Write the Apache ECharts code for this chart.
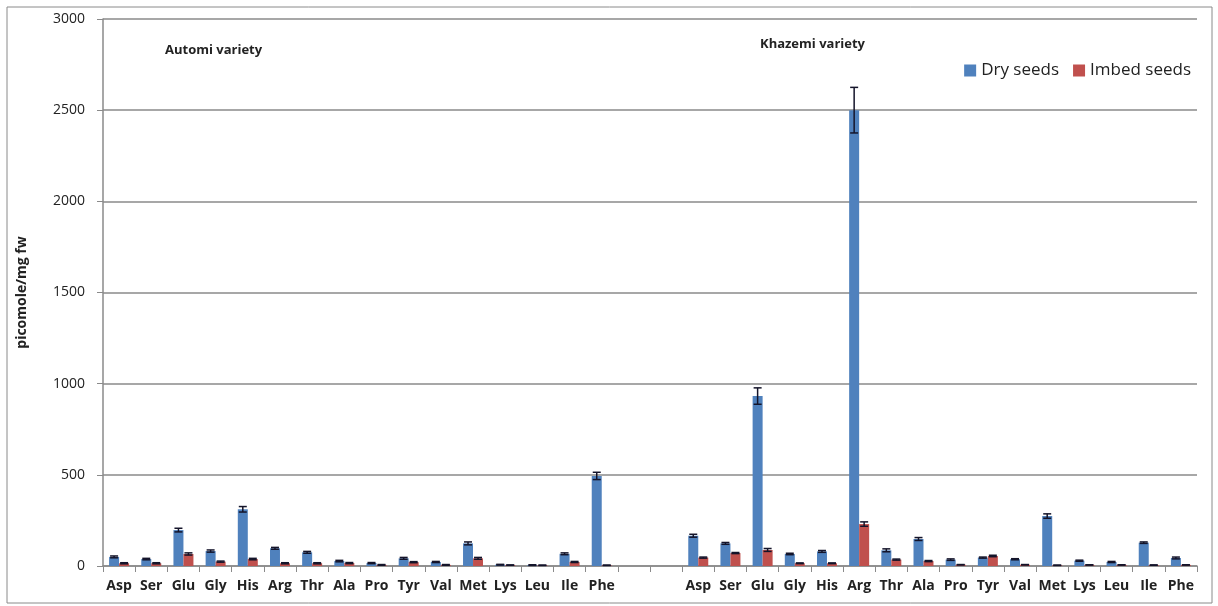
<!DOCTYPE html>
<html lang="en">
<head>
    <meta charset="UTF-8" />
    <title>Amino acids</title>
    <script src="https://cdn.jsdelivr.net/npm/echarts@6/dist/echarts.min.js"></script>
    <style>
        body { margin: 0; background: #fff; }
    </style>
</head>
<body>
    <div id="main" style="width: 1218px; height: 606px;"></div>

    <script>
        // amino acids, same order for both varieties
        var acids = ["Asp", "Ser", "Glu", "Gly", "His", "Arg", "Thr", "Ala", "Pro", "Tyr", "Val", "Met", "Lys", "Leu", "Ile", "Phe"];

        // Automi variety
        var automiDry = [50, 38, 197, 82, 311, 97, 75, 27, 16, 42, 22, 124, 7, 5, 67, 494];
        var automiImbed = [15, 15, 66, 24, 38, 15, 15, 16, 6, 21, 6, 42, 5, 4, 22, 4];
        var automiDryErr = [5, 4, 10, 6, 15, 5, 5, 4, 3, 5, 3, 8, 2, 2, 5, 20];
        var automiImbedErr = [3, 3, 6, 3, 4, 3, 3, 3, 2, 3, 2, 5, 1, 1, 3, 1];

        // Khazemi variety
        var khazemiDry = [166, 124, 932, 66, 80, 2500, 86, 148, 35, 46, 37, 274, 29, 22, 128, 44];
        var khazemiImbed = [46, 71, 88, 15, 15, 230, 35, 27, 7, 55, 7, 4, 6, 6, 5, 6];
        var khazemiDryErr = [8, 5, 45, 4, 5, 125, 8, 8, 4, 3, 3, 12, 3, 3, 4, 5];
        var khazemiImbedErr = [3, 3, 8, 2, 2, 12, 3, 3, 1, 4, 1, 1, 1, 1, 1, 1];

        // two empty slots between the varieties
        var gap = ["", ""];
        var gapNull = [null, null];

        var categories = acids.concat(gap, acids);
        var dryVals = automiDry.concat(gapNull, khazemiDry);
        var imbedVals = automiImbed.concat(gapNull, khazemiImbed);
        var dryErr = automiDryErr.concat(gapNull, khazemiDryErr);
        var imbedErr = automiImbedErr.concat(gapNull, khazemiImbedErr);

        var barW = 10;

        function errData(vals, errs) {
            var out = [];
            for (var i = 0; i < vals.length; i++) {
                if (vals[i] == null) continue;
                out.push([i, vals[i] - errs[i], vals[i] + errs[i]]);
            }
            return out;
        }

        function errRender(offset) {
            return function (params, api) {
                var lo = api.coord([api.value(0), api.value(1)]);
                var hi = api.coord([api.value(0), api.value(2)]);
                var x = lo[0] + offset;
                var cap = 4;
                var style = { stroke: "#14142a", lineWidth: 1.5 };
                return {
                    type: "group",
                    children: [
                        { type: "line", shape: { x1: x, y1: lo[1], x2: x, y2: hi[1] }, style: style },
                        { type: "line", shape: { x1: x - cap, y1: lo[1], x2: x + cap, y2: lo[1] }, style: style },
                        { type: "line", shape: { x1: x - cap, y1: hi[1], x2: x + cap, y2: hi[1] }, style: style }
                    ]
                };
            };
        }

        var chart = echarts.init(document.getElementById("main"));

        var option = {
            backgroundColor: "#fff",
            animation: false,
            textStyle: { fontFamily: "Open Sans" },
            grid: { left: 103, right: 21, top: 19, bottom: 40 },
            legend: {
                right: 22,
                top: 57,
                icon: "rect",
                itemWidth: 12,
                itemHeight: 12,
                itemGap: 14,
                textStyle: { fontSize: 17, color: "#222", fontFamily: "Open Sans" },
                data: ["Dry seeds", "Imbed seeds"]
            },
            graphic: [
                {
                    type: "rect",
                    shape: { x: 7, y: 7, width: 1205, height: 596 },
                    style: { fill: "none", stroke: "#8a8a8a", lineWidth: 1 },
                    silent: true
                },
                {
                    type: "text",
                    left: 165,
                    top: 44,
                    style: { text: "Automi variety", fontSize: 13, fontWeight: "bold", fill: "#222", fontFamily: "Open Sans" }
                },
                {
                    type: "text",
                    left: 760,
                    top: 38,
                    style: { text: "Khazemi variety", fontSize: 13, fontWeight: "bold", fill: "#222", fontFamily: "Open Sans" }
                }
            ],
            xAxis: {
                type: "category",
                data: categories,
                axisLine: { lineStyle: { color: "#8a8a8a", width: 1.5 } },
                axisTick: { show: true, alignWithLabel: false, length: 6, lineStyle: { color: "#8a8a8a" }, interval: 0 },
                axisLabel: { interval: 0, fontSize: 14, fontWeight: "bold", color: "#222", margin: 13 }
            },
            yAxis: {
                type: "value",
                min: 0,
                max: 3000,
                interval: 500,
                name: "picomole/mg fw",
                nameLocation: "middle",
                nameGap: 74,
                nameTextStyle: { fontSize: 14, fontWeight: "bold", color: "#222" },
                axisLine: { show: true, lineStyle: { color: "#8a8a8a", width: 1.5 } },
                axisTick: { show: true, length: 6, lineStyle: { color: "#8a8a8a" } },
                axisLabel: { fontSize: 14, color: "#222", margin: 18, formatter: function (v) { return String(v); } },
                splitLine: { lineStyle: { color: "#8a8a8a", width: 1.5 } }
            },
            series: [
                {
                    name: "Dry seeds",
                    type: "bar",
                    data: dryVals,
                    barWidth: barW,
                    barGap: "0%",
                    itemStyle: { color: "#4F81BD" }
                },
                {
                    name: "Imbed seeds",
                    type: "bar",
                    data: imbedVals,
                    barWidth: barW,
                    barGap: "0%",
                    itemStyle: { color: "#C0504D" }
                },
                {
                    type: "custom",
                    data: errData(dryVals, dryErr),
                    renderItem: errRender(-barW / 2),
                    z: 5
                },
                {
                    type: "custom",
                    data: errData(imbedVals, imbedErr),
                    renderItem: errRender(barW / 2),
                    z: 5
                }
            ]
        };

        chart.setOption(option);
    </script>
</body>
</html>
